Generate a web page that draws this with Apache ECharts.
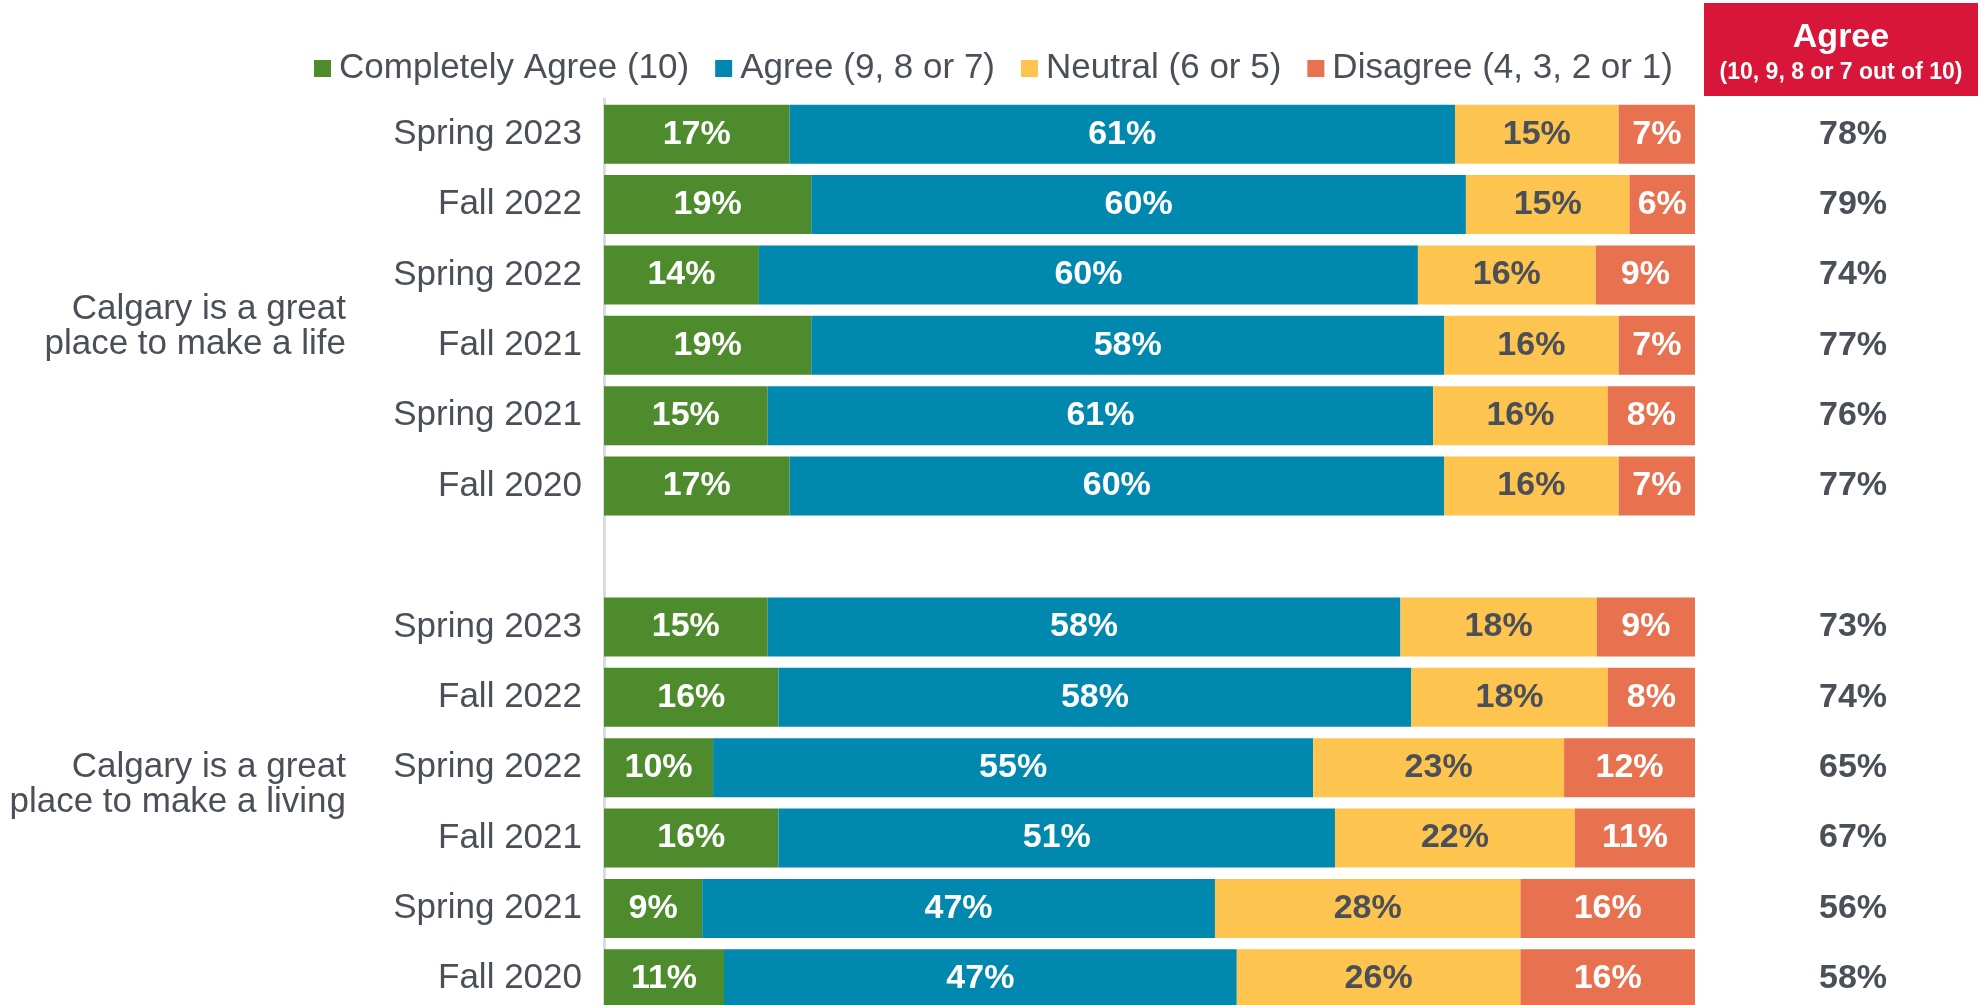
<!DOCTYPE html>
<html><head><meta charset="utf-8">
<script src="https://cdn.jsdelivr.net/npm/echarts@6/dist/echarts.min.js"></script>
<style>html,body{margin:0;padding:0;background:#fff}#c{width:1986px;height:1005px}</style>
</head><body><div id="c"></div>
<script>
// ---- data ----
const periods = ['Spring 2023','Fall 2022','Spring 2022','Fall 2021','Spring 2021','Fall 2020'];
const groupLabels = ['Calgary is a great\nplace to make a life','Calgary is a great\nplace to make a living'];
const seriesNames = ['Completely Agree (10)','Agree (9, 8 or 7)','Neutral (6 or 5)','Disagree (4, 3, 2 or 1)'];
const lifeCompletely = [17, 19, 14.2, 19, 15, 17];
const lifeAgree      = [61, 60, 60.4, 58, 61, 60];
const lifeNeutral    = [15, 15, 16.3, 16, 16, 16];
const lifeDisagree   = [7, 6, 9.1, 7, 8, 7];
const lifeTotalAgree = [78, 79, 74, 77, 76, 77];
const livingCompletely = [15, 16, 10, 16, 9, 11];
const livingAgree      = [58, 58, 55, 51, 47, 47];
const livingNeutral    = [18, 18, 23, 22, 28, 26];
const livingDisagree   = [9, 8, 12, 11, 16, 16];
const livingTotalAgree = [73, 74, 65, 67, 56, 58];
const headerTitle = 'Agree';
const headerSub = '(10, 9, 8 or 7 out of 10)';

// ---- style ----
const colors = ['#4D8B2C', '#0088AE', '#FEC450', '#E8714F'];
const labelColors = ['#FFFFFF', '#FFFFFF', '#4B4F58', '#FFFFFF'];
const textGray = '#4B4F58';
const FONT = "'Liberation Sans', Arial, sans-serif";

const yLabels = [...periods, '', ...periods];
const yKeys = yLabels.map((l, i) => 'k' + i);
const join = (a, b) => [...a, '-', ...b];
const stacks = [
  join(lifeCompletely, livingCompletely),
  join(lifeAgree, livingAgree),
  join(lifeNeutral, livingNeutral),
  join(lifeDisagree, livingDisagree)
];
const totals = join(lifeTotalAgree, livingTotalAgree);

const GRID_TOP = 99, GRID_H = 915;

const barSeries = seriesNames.map((name, s) => ({
  name, type: 'bar', stack: 'all', xAxisIndex: 0, yAxisIndex: 0,
  barWidth: 59,
  data: stacks[s],
  itemStyle: { color: colors[s] },
  label: {
    show: true, position: 'inside',
    formatter: p => Math.round(p.value) + '%',
    color: labelColors[s], fontFamily: FONT, fontWeight: 'bold', fontSize: 34
  },
  emphasis: { disabled: true }
}));

const totalSeries = {
  type: 'scatter', xAxisIndex: 1, yAxisIndex: 1, symbolSize: 0, silent: true,
  itemStyle: { opacity: 1 },
  data: totals.map((v, i) => v === '-' ? null : [0.5, i, v]).filter(d => d),
  label: {
    show: true, position: 'inside',
    formatter: p => p.value[2] + '%',
    color: textGray, fontFamily: FONT, fontWeight: 'bold', fontSize: 34
  }
};

const chart = echarts.init(document.getElementById('c'), null, { renderer: 'canvas' });
chart.setOption({
  animation: false,
  backgroundColor: '#fff',
  color: colors,
  legend: {
    data: seriesNames, left: 309, top: 46, icon: 'rect',
    itemWidth: 17, itemHeight: 17, itemGap: 26, selectedMode: false,
    textStyle: { color: textGray, fontFamily: FONT, fontSize: 35, lineHeight: 35, padding: [0, 0, 0, 3] }
  },
  grid: [
    { left: 604, width: 1091, top: GRID_TOP, height: GRID_H, outerBoundsMode: 'none' },
    { left: 1753, width: 200, top: GRID_TOP, height: GRID_H, outerBoundsMode: 'none' }
  ],
  xAxis: [
    { type: 'value', gridIndex: 0, min: 0, max: 100, show: false },
    { type: 'value', gridIndex: 1, min: 0, max: 1, show: false }
  ],
  yAxis: [
    {
      type: 'category', gridIndex: 0, inverse: true, data: yKeys,
      axisLine: { show: true, lineStyle: { color: '#DCDCDC', width: 3 } },
      axisTick: { show: false },
      axisLabel: {
        formatter: (v, i) => yLabels[i], margin: 22,
        color: textGray, fontFamily: FONT, fontSize: 35
      }
    },
    { type: 'category', gridIndex: 1, inverse: true, data: yKeys, show: false }
  ],
  graphic: [
    { type: 'rect', shape: { x: 1704, y: 3, width: 274, height: 93 }, style: { fill: '#D7163A' } },
    { type: 'text', x: 1841, y: 38, style: { text: headerTitle, fill: '#fff', font: "bold 34px 'Liberation Sans', Arial", textAlign: 'center', textVerticalAlign: 'middle' } },
    { type: 'text', x: 1841, y: 73, style: { text: headerSub, fill: '#fff', font: "bold 23px 'Liberation Sans', Arial", textAlign: 'center', textVerticalAlign: 'middle' } },
    { type: 'text', x: 346, y: 327, style: { text: groupLabels[0], fill: textGray, font: "35px 'Liberation Sans', Arial", lineHeight: 35.5, textAlign: 'right', textVerticalAlign: 'middle' } },
    { type: 'text', x: 346, y: 785, style: { text: groupLabels[1], fill: textGray, font: "35px 'Liberation Sans', Arial", lineHeight: 35.5, textAlign: 'right', textVerticalAlign: 'middle' } }
  ],
  series: [...barSeries, totalSeries]
});
</script>
</body></html>
